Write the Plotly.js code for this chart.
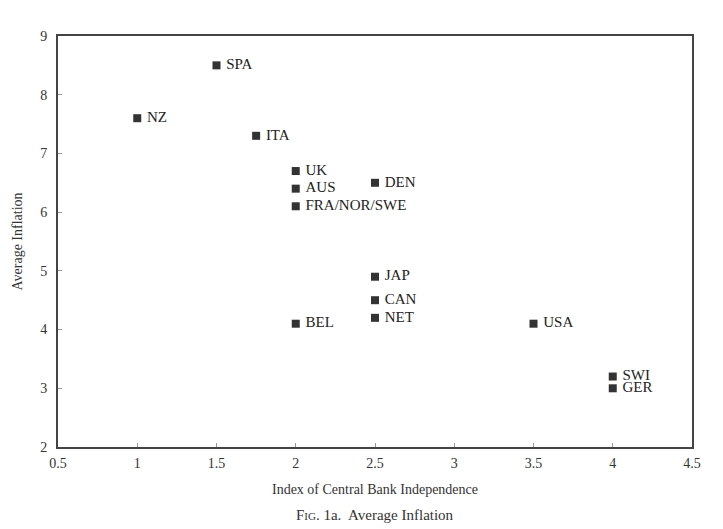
<!DOCTYPE html>
<html>
<head>
<meta charset="utf-8">
<script src="https://cdn.plot.ly/plotly-3.0.1.min.js"></script>
<style>html,body{margin:0;padding:0;background:#fff;}</style>
</head>
<body>
<div id="chart" style="width:723px;height:529px;"></div>
<script>
const countries = ["SPA","NZ","ITA","UK","AUS","FRA/NOR/SWE","DEN","JAP","CAN","NET","BEL","USA","SWI","GER"];
const independence = [1.5, 1, 1.75, 2, 2, 2, 2.5, 2.5, 2.5, 2.5, 2, 3.5, 4, 4];
const inflation = [8.5, 7.6, 7.3, 6.7, 6.4, 6.1, 6.5, 4.9, 4.5, 4.2, 4.1, 4.1, 3.2, 3.0];
const xTicks = [0.5, 1, 1.5, 2, 2.5, 3, 3.5, 4, 4.5];
const xTickLabels = ["0.5","1","1.5","2","2.5","3","3.5","4","4.5"];
const yTicks = [2, 3, 4, 5, 6, 7, 8, 9];

const serif = "Liberation Serif, Times New Roman, serif";
const trace = {
  x: independence,
  y: inflation,
  text: countries.map(c => "\u00a0" + c),
  mode: "markers+text",
  type: "scatter",
  textposition: "middle right",
  textfont: {family: serif, size: 15, color: "#222"},
  marker: {symbol: "square", size: 8, color: "#333"},
  cliponaxis: false,
  hoverinfo: "skip"
};
const layout = {
  width: 723, height: 529,
  margin: {l: 58, r: 31, t: 36, b: 82},
  paper_bgcolor: "#fff", plot_bgcolor: "#fff",
  showlegend: false,
  font: {family: serif, size: 14, color: "#333"},
  xaxis: {
    range: [0.5, 4.5], tickvals: xTicks, ticktext: xTickLabels,
    showgrid: false, zeroline: false,
    showline: true, linecolor: "#444", linewidth: 2, mirror: true,
    ticks: "inside", ticklen: 4, tickcolor: "#999",
    ticklabelstandoff: 2,
    tickfont: {family: serif, size: 14, color: "#333"},
    title: {text: "Index of Central Bank Independence", font: {family: serif, size: 14, color: "#333"}, standoff: 14}
  },
  yaxis: {
    range: [2, 9], tickvals: yTicks,
    showgrid: false, zeroline: false,
    showline: true, linecolor: "#444", linewidth: 2, mirror: true,
    ticks: "inside", ticklen: 4, tickcolor: "#999",
    ticklabelstandoff: 6,
    tickfont: {family: serif, size: 14, color: "#333"},
    title: {text: "Average Inflation", font: {family: serif, size: 14, color: "#333"}, standoff: 14}
  },
  annotations: [{
    xref: "paper", yref: "paper", x: 0.5, y: -0.165, yanchor: "middle", xanchor: "center",
    showarrow: false,
    text: "F<span style=\"font-size:11px\">IG</span>. 1a.  Average Inflation",
    font: {family: serif, size: 15, color: "#333"}
  }]
};
Plotly.newPlot("chart", [trace], layout, {displayModeBar: false, staticPlot: true});
</script>
</body>
</html>
